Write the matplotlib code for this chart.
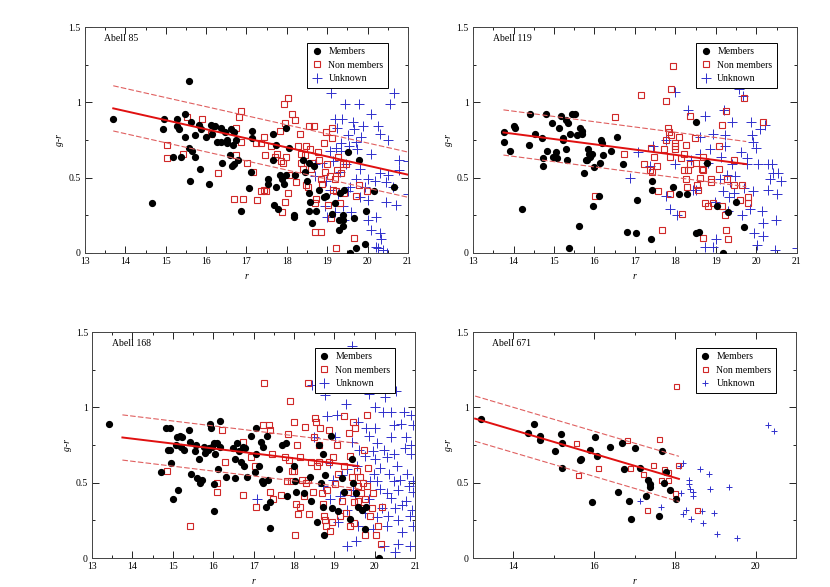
import matplotlib
matplotlib.use("Agg")
import matplotlib.pyplot as plt
from matplotlib.ticker import MultipleLocator, FuncFormatter

plt.rcParams['font.family'] = ['Liberation Serif', 'DejaVu Serif']

# ---- Abell 85 ----
a85_mem_r = [13.70, 14.67, 14.97, 14.94, 15.19, 15.29, 15.27, 15.32, 15.38, 15.48, 15.47, 15.57, 15.57, 15.61,
             15.64, 15.62, 15.73, 15.73, 15.83, 15.87, 15.85, 15.99, 16.08, 16.13, 16.17, 16.14, 16.23, 16.27,
             16.38, 16.38, 16.40, 16.48, 16.51, 16.53, 16.59, 16.63, 16.64, 16.67, 16.70, 16.70, 16.73, 16.79,
             16.86, 17.06, 17.11, 17.13, 17.15, 17.53, 17.54, 17.66, 17.66, 17.68, 17.74, 17.74, 17.79, 17.84,
             17.88, 17.92, 17.98, 17.99, 18.06, 18.17, 18.17, 18.20, 18.41, 18.44, 18.51, 18.55, 18.54, 18.57,
             18.55, 18.63, 18.67, 18.72, 18.80, 18.91, 18.96, 19.11, 19.19, 19.29, 19.29, 19.33, 19.39, 19.39,
             19.40, 19.42, 19.51, 19.56, 19.66, 19.71, 19.79, 19.97, 19.94, 20.17, 20.65]
a85_mem_gr = [0.89, 0.33, 0.89, 0.82, 0.64, 0.89, 0.84, 0.82, 0.64, 0.92, 0.77, 1.14, 0.70, 0.48,
              0.68, 0.87, 0.64, 0.78, 0.85, 0.82, 0.56, 0.77, 0.46, 0.85, 0.84, 0.79, 0.84, 0.74,
              0.74, 0.83, 0.60, 0.80, 0.75, 0.73, 0.65, 0.82, 0.58, 0.72, 0.59, 0.80, 0.75, 0.62,
              0.28, 0.43, 0.54, 0.76, 0.81, 0.49, 0.46, 0.79, 0.62, 0.32, 0.72, 0.44, 0.29, 0.52,
              0.49, 0.46, 0.83, 0.52, 0.70, 0.24, 0.25, 0.52, 0.62, 0.54, 0.48, 0.60, 0.28, 0.34,
              0.40, 0.20, 0.58, 0.28, 0.42, 0.37, 0.38, 0.26, 0.33, 0.22, 0.15, 0.40, 0.25, 0.18,
              0.22, 0.42, 0.67, 0.00, 0.23, 0.03, 0.62, 0.28, 0.06, 0.41, 0.44]
a85_non_r = [15.04, 15.04, 15.43, 15.52, 15.90, 16.13, 16.30, 16.69, 16.74, 16.75, 16.81, 16.87, 16.86, 16.92,
             17.01, 17.17, 17.23, 17.26, 17.35, 17.37, 17.43, 17.44, 17.45, 17.48, 17.62, 17.70, 17.76, 17.82,
             17.86, 17.87, 17.90, 17.93, 17.95, 17.97, 17.96, 18.03, 18.03, 18.06, 18.14, 18.20, 18.24, 18.28,
             18.32, 18.36, 18.36, 18.40, 18.44, 18.47, 18.48, 18.52, 18.55, 18.57, 18.61, 18.65, 18.67, 18.70,
             18.70, 18.73, 18.77, 18.80, 18.84, 18.85, 18.87, 18.91, 18.94, 18.96, 18.99, 19.02, 19.06, 19.09,
             19.11, 19.13, 19.14, 19.19, 19.21, 19.23, 19.25, 19.28, 19.31, 19.35, 19.39, 19.43, 19.46, 19.67,
             19.71, 19.78, 19.99]
a85_non_gr = [0.72, 0.63, 0.66, 0.90, 0.89, 0.79, 0.53, 0.36, 0.83, 0.65, 0.90, 0.94, 0.74, 0.36,
              0.60, 0.54, 0.73, 0.35, 0.73, 0.41, 0.42, 0.77, 0.65, 0.41, 0.71, 0.64, 0.66, 0.81,
              0.61, 0.27, 0.60, 0.99, 0.86, 0.64, 0.34, 1.03, 0.40, 0.52, 0.92, 0.88, 0.47, 0.71,
              0.79, 0.66, 0.60, 0.56, 0.65, 0.71, 0.45, 0.44, 0.84, 0.69, 0.56, 0.60, 0.84, 0.33,
              0.14, 0.36, 0.67, 0.62, 0.49, 0.14, 0.46, 0.73, 0.54, 0.80, 0.59, 0.32, 0.51, 0.23,
              0.83, 0.76, 0.42, 0.49, 0.03, 0.41, 0.55, 0.64, 0.33, 0.53, 0.59, 0.40, 0.59, 0.10,
              0.38, 0.45, 0.41]
a85_unk_r = [19.09, 19.45, 19.79, 20.55, 20.65, 19.19, 19.36, 19.24, 19.64, 19.89, 19.67, 20.08, 20.25, 20.30,
             19.85, 19.52, 19.72, 19.35, 19.23, 19.06, 19.35, 19.54, 19.75, 20.09, 20.50, 20.79, 21.00, 18.88,
             19.14, 19.46, 19.81, 20.01, 20.18, 20.30, 20.50, 20.77, 18.69, 18.98, 19.31, 19.56, 19.72, 19.93,
             20.46, 20.63, 19.06, 19.27, 19.52, 19.81, 20.01, 20.46, 20.71, 21.00, 18.94, 19.19, 19.39, 19.60,
             19.43, 20.01, 20.22, 20.09, 20.30, 20.34, 20.26, 20.38, 20.49, 20.22, 18.99, 18.69]
a85_unk_gr = [1.06, 0.99, 0.99, 0.99, 1.06, 0.89, 0.89, 0.83, 0.87, 0.84, 0.82, 0.92, 0.84, 0.79,
              0.77, 0.78, 0.74, 0.73, 0.70, 0.68, 0.68, 0.71, 0.69, 0.66, 0.75, 0.62, 0.61, 0.60,
              0.61, 0.59, 0.56, 0.49, 0.48, 0.53, 0.52, 0.55, 0.51, 0.48, 0.54, 0.44, 0.49, 0.44,
              0.47, 0.44, 0.42, 0.39, 0.41, 0.37, 0.35, 0.34, 0.32, 0.39, 0.31, 0.27, 0.31, 0.27,
              0.22, 0.22, 0.24, 0.15, 0.13, 0.09, 0.03, 0.02, 0.00, 0.04, 0.24, 0.59]

# ---- Abell 119 ----
a119_mem_r = [13.76, 13.76, 13.91, 14.02, 14.04, 14.20, 14.37, 14.41, 14.52, 14.70, 14.72, 14.73, 14.79, 14.83,
              14.96, 14.98, 15.05, 15.07, 15.13, 15.18, 15.21, 15.22, 15.30, 15.32, 15.30, 15.35, 15.36, 15.40,
              15.44, 15.51, 15.57, 15.61, 15.63, 15.69, 15.69, 15.75, 15.78, 15.81, 15.85, 15.87, 15.88, 15.93,
              15.97, 15.98, 16.11, 16.13, 16.16, 16.18, 16.21, 16.42, 16.56, 16.70, 16.80, 17.02, 17.05, 17.39,
              17.43, 17.43, 17.94, 18.10, 18.29, 18.50, 18.50, 18.58, 18.79, 19.04, 19.18, 19.31, 19.50, 19.69]
a119_mem_gr = [0.80, 0.74, 0.68, 0.84, 0.83, 0.29, 0.72, 0.92, 0.79, 0.76, 0.58, 0.63, 0.92, 0.68,
               0.86, 0.64, 0.67, 0.63, 0.83, 0.91, 0.75, 0.76, 0.69, 0.62, 0.88, 0.86, 0.03, 0.79,
               0.92, 0.92, 0.78, 0.18, 0.83, 0.79, 0.81, 0.53, 0.62, 0.62, 0.69, 0.66, 0.64, 0.66,
               0.31, 0.57, 0.38, 0.60, 0.75, 0.73, 0.65, 0.68, 0.77, 0.59, 0.14, 0.13, 0.35, 0.09,
               0.48, 0.42, 0.44, 0.39, 0.39, 0.87, 0.13, 0.14, 0.60, 0.31, 0.00, 0.27, 0.34, 0.17]
a119_non_r = [17.15, 17.76, 17.94, 17.88, 16.51, 16.02, 16.74, 17.22, 17.40, 17.38, 17.41, 17.47, 17.55, 17.56,
              17.68, 17.71, 17.76, 17.82, 17.84, 17.87, 17.87, 17.90, 17.99, 18.00, 18.00, 18.10, 18.13, 18.17,
              18.21, 18.22, 18.27, 18.25, 18.29, 18.35, 18.32, 18.36, 18.48, 18.51, 18.54, 18.57, 18.61, 18.65,
              18.69, 18.69, 18.69, 18.72, 18.81, 18.87, 18.89, 18.92, 19.07, 19.07, 19.15, 19.16, 19.23, 19.25,
              19.27, 19.25, 19.29, 19.45, 19.46, 19.64, 19.69, 19.80, 19.80, 20.16, 19.60]
a119_non_gr = [1.05, 1.01, 1.24, 1.09, 0.90, 0.38, 0.66, 0.59, 0.70, 0.55, 0.54, 0.64, 0.58, 0.41,
               0.15, 0.69, 0.75, 0.83, 0.80, 0.64, 0.39, 0.78, 0.69, 0.71, 0.73, 0.77, 0.63, 0.26,
               0.66, 0.55, 0.72, 0.49, 0.44, 0.91, 0.55, 0.59, 0.76, 0.60, 0.45, 0.42, 0.50, 0.56,
               0.64, 0.55, 0.10, 0.33, 0.31, 0.47, 0.49, 0.33, 0.71, 0.56, 0.85, 0.31, 0.25, 0.94,
               0.49, 0.15, 0.09, 0.45, 0.62, 0.45, 1.03, 0.33, 0.37, 0.87, 0.35]
a119_unk_r = [16.88, 17.07, 17.37, 17.44, 17.76, 17.77, 17.86, 18.00, 18.00, 18.05, 18.32, 18.38, 18.44, 18.52,
              18.60, 18.62, 18.74, 18.73, 18.81, 18.85, 18.93, 18.94, 18.98, 19.01, 19.09, 19.13, 19.17, 19.21,
              19.23, 19.23, 19.27, 19.30, 19.33, 19.35, 19.40, 19.41, 19.44, 19.48, 19.56, 19.62, 19.64, 19.67,
              19.70, 19.77, 19.77, 19.85, 19.86, 19.90, 19.91, 19.92, 19.95, 19.99, 20.01, 20.03, 20.10, 20.14,
              20.16, 20.17, 20.21, 20.29, 20.29, 20.34, 20.38, 20.40, 20.47, 20.48, 20.50, 20.54, 20.61, 21.00]
a119_unk_gr = [0.50, 0.67, 0.58, 0.71, 0.75, 0.38, 0.29, 1.07, 0.59, 0.25, 0.95, 0.62, 0.42, 0.42,
               0.77, 0.66, 0.91, 0.04, 0.60, 0.69, 0.79, 0.04, 0.34, 0.09, 0.49, 0.64, 0.41, 0.95,
               0.78, 0.71, 0.52, 0.28, 0.37, 0.47, 0.87, 0.59, 0.40, 0.51, 1.09, 0.67, 0.25, 1.04,
               0.43, 0.63, 0.59, 0.29, 0.87, 0.78, 0.74, 0.41, 0.13, 0.70, 0.05, 0.59, 0.82, 0.28,
               0.11, 0.20, 0.85, 0.42, 0.59, 0.49, 0.59, 0.53, 0.02, 0.22, 0.39, 0.53, 0.48, 0.03]

# ---- Abell 168 ----
a168_mem_r = [13.41, 14.71, 14.83, 14.94, 14.89, 14.94, 14.95, 15.00, 15.09, 15.10, 15.12, 15.17, 15.19, 15.22,
              15.27, 15.40, 15.42, 15.45, 15.54, 15.58, 15.60, 15.65, 15.68, 15.73, 15.76, 15.80, 15.86, 15.90,
              15.93, 15.94, 15.97, 16.01, 16.03, 16.03, 16.05, 16.09, 16.12, 16.16, 16.16, 16.32, 16.49, 16.53,
              16.54, 16.59, 16.65, 16.69, 16.74, 16.77, 16.80, 16.84, 16.93, 17.05, 17.03, 17.07, 17.13, 17.19,
              17.21, 17.23, 17.24, 17.30, 17.33, 17.36, 17.40, 17.41, 17.63, 17.70, 17.81, 17.82, 18.01, 18.03,
              18.06, 18.26, 18.40, 18.42, 18.57, 18.62, 18.67, 18.71, 18.73, 18.75, 18.78, 18.93, 18.94, 19.08,
              19.19, 19.23, 19.39, 19.47, 19.54, 19.60, 19.68, 19.75, 19.79, 20.12, 19.43]
a168_mem_gr = [0.89, 0.57, 0.86, 0.86, 0.72, 0.72, 0.63, 0.39, 0.75, 0.80, 0.45, 0.81, 0.74, 0.80,
               0.72, 0.85, 0.77, 0.56, 0.71, 0.75, 0.53, 0.66, 0.50, 0.52, 0.74, 0.70, 0.72, 0.73,
               0.89, 0.86, 0.74, 0.76, 0.49, 0.31, 0.69, 0.76, 0.59, 0.91, 0.74, 0.54, 0.73, 0.53,
               0.66, 0.76, 0.71, 0.64, 0.74, 0.61, 0.73, 0.54, 0.81, 0.86, 0.57, 0.69, 0.61, 0.77,
               0.51, 0.74, 0.50, 0.34, 0.81, 0.52, 0.20, 0.37, 0.59, 0.75, 0.76, 0.41, 0.61, 0.51,
               0.44, 0.43, 0.54, 0.38, 0.24, 0.75, 0.50, 0.69, 0.34, 0.15, 0.55, 0.81, 0.33, 0.31,
               0.53, 0.44, 0.26, 0.50, 0.43, 0.34, 0.32, 0.19, 0.34, 0.00, 0.66]
a168_non_r = [15.43, 14.86, 16.10, 16.09, 16.21, 16.30, 16.75, 16.74, 16.93, 17.04, 17.06, 17.26, 17.23, 17.38,
              17.40, 17.41, 17.45, 17.49, 17.69, 17.77, 17.82, 17.86, 17.89, 17.91, 17.92, 17.96, 17.99, 18.01,
              18.03, 18.06, 18.07, 18.11, 18.14, 18.15, 18.19, 18.24, 18.27, 18.30, 18.34, 18.36, 18.37, 18.42,
              18.48, 18.50, 18.53, 18.55, 18.57, 18.61, 18.63, 18.65, 18.69, 18.72, 18.75, 18.77, 18.80, 18.83,
              18.86, 18.88, 18.90, 18.94, 18.98, 19.02, 19.06, 19.10, 19.14, 19.19, 19.24, 19.23, 19.29, 19.33,
              19.37, 19.39, 19.40, 19.44, 19.47, 19.48, 19.51, 19.56, 19.58, 19.60, 19.64, 19.66, 19.68, 19.71,
              19.73, 19.75, 19.77, 19.80, 19.82, 19.84, 19.89, 19.93, 19.97, 20.04, 20.09, 20.15, 20.18, 19.49]
a168_non_gr = [0.21, 0.58, 0.50, 0.44, 0.85, 0.64, 0.42, 0.77, 0.67, 0.61, 0.34, 1.16, 0.88, 0.88,
               0.85, 0.44, 0.69, 0.39, 0.42, 0.67, 0.51, 0.82, 0.65, 1.04, 0.51, 0.58, 0.90, 0.58,
               0.15, 0.36, 0.75, 0.29, 0.67, 0.34, 0.52, 0.41, 0.87, 0.50, 1.16, 0.52, 0.29, 0.64,
               0.44, 0.80, 0.93, 0.90, 0.61, 0.64, 0.75, 0.86, 0.43, 0.36, 0.28, 0.25, 0.21, 0.45,
               0.64, 0.85, 0.18, 0.24, 0.67, 0.49, 0.75, 0.56, 0.28, 0.38, 0.94, 0.61, 0.30, 0.44,
               0.83, 0.21, 0.68, 0.54, 0.90, 0.37, 0.86, 0.58, 0.48, 0.38, 0.54, 0.43, 0.33, 0.50,
               0.72, 0.39, 0.15, 0.95, 0.48, 0.60, 0.28, 0.33, 0.43, 0.15, 0.21, 0.09, 0.34, 0.23]
a168_unk_r = [19.43, 18.44, 18.77, 19.29, 19.87, 20.26, 20.53, 20.00, 20.20, 20.41, 20.73, 20.90, 20.96, 18.82,
              19.06, 19.60, 19.79, 20.02, 20.48, 20.66, 18.49, 19.02, 19.43, 19.87, 20.06, 20.41, 20.77, 20.90,
              19.62, 19.97, 20.22, 20.47, 20.74, 20.91, 19.76, 20.02, 20.30, 18.90, 19.31, 19.57, 19.98, 20.14,
              20.35, 20.56, 20.79, 20.96, 19.89, 20.06, 20.47, 20.63, 20.84, 18.73, 18.98, 19.47, 20.14, 20.30,
              20.59, 20.96, 18.90, 19.14, 19.52, 19.85, 20.41, 20.77, 20.18, 20.51, 20.67, 20.92, 19.31, 19.76,
              20.05, 20.34, 20.59, 20.88, 19.10, 19.60, 19.97, 20.30, 20.67, 20.96, 19.31, 19.55, 20.22, 20.51,
              20.59, 20.88, 17.08, 19.19]
a168_unk_gr = [1.41, 1.15, 1.08, 1.02, 1.09, 1.07, 1.11, 1.00, 0.97, 0.97, 0.97, 0.95, 0.88, 0.94,
               0.95, 0.90, 0.86, 0.86, 0.88, 0.89, 0.80, 0.80, 0.77, 0.81, 0.76, 0.80, 0.80, 0.75,
               0.72, 0.71, 0.72, 0.69, 0.73, 0.69, 0.68, 0.66, 0.67, 0.63, 0.59, 0.61, 0.56, 0.60,
               0.56, 0.61, 0.56, 0.51, 0.51, 0.51, 0.51, 0.52, 0.48, 0.48, 0.52, 0.45, 0.46, 0.43,
               0.45, 0.44, 0.39, 0.41, 0.41, 0.39, 0.40, 0.38, 0.33, 0.33, 0.35, 0.32, 0.32, 0.30,
               0.27, 0.28, 0.25, 0.28, 0.24, 0.21, 0.19, 0.21, 0.17, 0.21, 0.08, 0.11, 0.08, 0.04,
               0.09, 0.08, 0.39, 0.55]

# ---- Abell 671 ----
a671_mem_r = [13.20, 14.36, 14.51, 14.66, 14.66, 15.02, 15.18, 15.20, 15.20, 15.64, 15.67, 15.90, 15.94, 16.02,
              16.08, 16.39, 16.60, 16.69, 16.75, 16.86, 16.91, 17.02, 17.13, 17.28, 17.34, 17.38, 17.39, 17.61,
              17.67, 17.73, 17.77, 17.89, 18.02]
a671_mem_gr = [0.92, 0.83, 0.89, 0.81, 0.78, 0.71, 0.82, 0.76, 0.60, 0.65, 0.66, 0.72, 0.37, 0.80,
               0.68, 0.74, 0.44, 0.76, 0.59, 0.38, 0.26, 0.73, 0.60, 0.41, 0.52, 0.49, 0.47, 0.28,
               0.71, 0.50, 0.57, 0.45, 0.39]
a671_non_r = [15.55, 15.61, 16.10, 16.81, 16.90, 17.20, 17.31, 17.45, 17.61, 17.65, 17.73, 17.83, 17.82, 18.01,
              18.02, 18.07, 18.55]
a671_non_gr = [0.76, 0.55, 0.60, 0.78, 0.60, 0.56, 0.32, 0.62, 0.79, 0.52, 0.59, 0.57, 0.52, 0.43,
               1.14, 0.62, 0.32]
a671_unk_r = [17.14, 17.65, 18.12, 18.20, 18.16, 18.20, 18.28, 18.34, 18.36, 18.38, 18.39, 18.44, 18.46, 18.63,
              18.68, 18.69, 18.84, 18.86, 18.98, 19.04, 19.33, 19.55, 20.30, 20.45]
a671_unk_gr = [0.38, 0.34, 0.61, 0.63, 0.43, 0.29, 0.32, 0.49, 0.52, 0.46, 0.26, 0.41, 0.44, 0.59,
               0.31, 0.23, 0.56, 0.46, 0.30, 0.16, 0.47, 0.13, 0.88, 0.84]

# red-sequence fits: end points of the central line, half width of the band
fit_r = {'85': [13.70, 21.00], '119': [13.75, 19.75], '168': [13.75, 19.60], '671': [13.05, 18.10]}
fit_gr = {'85': [0.96, 0.52], '119': [0.80, 0.59], '168': [0.80, 0.61], '671': [0.925, 0.525]}
band = 0.15

panels = [
    ('Abell 85', '85', [0.1024, 0.569, 0.389, 0.385],
     (a85_mem_r, a85_mem_gr), (a85_non_r, a85_non_gr), (a85_unk_r, a85_unk_gr)),
    ('Abell 119', '119', [0.570, 0.569, 0.390, 0.385],
     (a119_mem_r, a119_mem_gr), (a119_non_r, a119_non_gr), (a119_unk_r, a119_unk_gr)),
    ('Abell 168', '168', [0.111, 0.0494, 0.389, 0.385],
     (a168_mem_r, a168_mem_gr), (a168_non_r, a168_non_gr), (a168_unk_r, a168_unk_gr)),
    ('Abell 671', '671', [0.570, 0.0494, 0.389, 0.385],
     (a671_mem_r, a671_mem_gr), (a671_non_r, a671_non_gr), (a671_unk_r, a671_unk_gr)),
]

red = '#d02828'
blue = '#3030cc'

fig = plt.figure(figsize=(8.3, 5.87), dpi=100)

for name, key, rect, mem, non, unk in panels:
    ax = fig.add_axes(rect)
    small = key == '671'
    sq = 3.6 if small else 5.0
    pl = 5.0 if small else 6.5

    ax.plot(unk[0], unk[1], '+', color=blue, ms=pl, mew=0.7, label='Unknown', zorder=2)
    ax.plot(non[0], non[1], 's', color=red, mfc='none', mec=red, ms=sq, mew=0.8,
            label='Non members', zorder=3)
    ax.plot(mem[0], mem[1], 'o', color='black', ms=4.2, label='Members', zorder=4)

    r0, r1 = fit_r[key]
    g0, g1 = fit_gr[key]
    ax.plot([r0, r1], [g0, g1], '-', color='#e01010', lw=1.4, zorder=5)
    ax.plot([r0, r1], [g0 + band, g1 + band], '--', color='#e06060', lw=0.8, dashes=(5, 2), zorder=5)
    ax.plot([r0, r1], [g0 - band, g1 - band], '--', color='#e06060', lw=0.8, dashes=(5, 2), zorder=5)

    ax.set_xlim(13, 21)
    ax.set_ylim(0, 1.5)
    if small:
        ax.xaxis.set_major_locator(MultipleLocator(2))
        ax.xaxis.set_minor_locator(MultipleLocator(1))
    else:
        ax.xaxis.set_major_locator(MultipleLocator(1))
        ax.xaxis.set_minor_locator(MultipleLocator(0.5))
    ax.yaxis.set_major_locator(MultipleLocator(0.5))
    ax.yaxis.set_minor_locator(MultipleLocator(0.25))
    ax.yaxis.set_major_formatter(FuncFormatter(lambda v, p: f'{v:g}'))
    ax.tick_params(which='both', direction='in', top=True, right=True, labelsize=7, width=0.6, pad=3)
    ax.tick_params(which='major', length=5)
    ax.tick_params(which='minor', length=2.5)
    for s in ax.spines.values():
        s.set_linewidth(0.7)
        s.set_color('#444444')

    ax.set_xlabel('r', style='italic', fontsize=7, labelpad=4)
    ax.set_ylabel('g-r', style='italic', fontsize=7, labelpad=3)
    ax.text(0.06, 0.95, name, transform=ax.transAxes, fontsize=7, ha='left', va='center')

    h, l = ax.get_legend_handles_labels()
    leg = ax.legend(h[::-1], l[::-1], loc='upper right', bbox_to_anchor=(0.938, 0.929), borderaxespad=0,
                    fontsize=7, fancybox=False, edgecolor='black', framealpha=1, borderpad=0.45,
                    handletextpad=0.7, handlelength=1.0, labelspacing=0.45)
    leg.get_frame().set_linewidth(0.7)

fig.savefig('out.png', dpi=100)
